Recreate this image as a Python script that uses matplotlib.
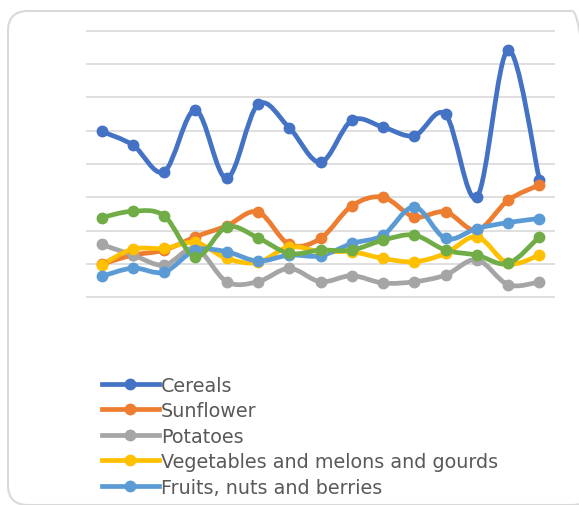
import numpy as np
import matplotlib
matplotlib.use("Agg")
import matplotlib.pyplot as plt
from matplotlib.path import Path
from matplotlib.patches import PathPatch, FancyBboxPatch
from matplotlib.lines import Line2D

# yearly values per crop group (15 periods)
periods = np.arange(15)
cereals = [49.8, 45.7, 37.7, 56.2, 35.7, 57.9, 50.9, 40.5, 53.1, 51.1, 48.5, 54.9, 30.0, 74.3, 35.3]
sunflower = [9.9, 12.6, 14.1, 18.1, 21.4, 25.6, 15.8, 17.6, 27.4, 30.0, 24.1, 25.6, 20.1, 29.1, 33.7]
potatoes = [15.8, 12.6, 9.6, 14.6, 4.6, 4.6, 8.6, 4.6, 6.4, 4.2, 4.6, 6.6, 11.2, 3.7, 4.5]
vegetables = [9.7, 14.4, 14.6, 16.4, 11.6, 10.4, 15.1, 13.6, 13.6, 11.6, 10.6, 13.1, 18.1, 10.1, 12.6]
fruits = [6.2, 8.7, 7.5, 14.1, 13.6, 10.8, 12.6, 12.4, 16.1, 18.6, 27.1, 17.6, 20.6, 22.4, 23.6]
other_crops = [23.9, 25.8, 24.4, 12.1, 21.1, 17.8, 13.1, 14.1, 14.1, 17.1, 18.6, 14.1, 12.6, 10.1, 18.1]

series = [
    ("Cereals", cereals, "#4472C4"),
    ("Sunflower", sunflower, "#ED7D31"),
    ("Potatoes", potatoes, "#A5A5A5"),
    ("Vegetables and melons and gourds", vegetables, "#FFC000"),
    ("Fruits, nuts and berries", fruits, "#5B9BD5"),
    (None, other_crops, "#70AD47"),
]


def smooth_path(x, y, tension=1 / 6):
    # cubic bezier through every point, Catmull-Rom style tangents
    pts = np.column_stack([x, y]).astype(float)
    ext = np.vstack([pts[0], pts, pts[-1]])
    verts = [pts[0]]
    codes = [Path.MOVETO]
    for i in range(len(pts) - 1):
        p0, p1, p2, p3 = ext[i], ext[i + 1], ext[i + 2], ext[i + 3]
        c1 = p1 + (p2 - p0) * tension
        c2 = p2 - (p3 - p1) * tension
        verts += [c1, c2, p2]
        codes += [Path.CURVE4] * 3
    return Path(verts, codes)


fig = plt.figure(figsize=(5.79, 5.06), dpi=100)
ax = fig.add_axes([86 / 579, 207 / 506, 469 / 579, 268 / 506])

for label, vals, color in series:
    ax.add_patch(PathPatch(smooth_path(periods, vals), facecolor="none",
                           edgecolor=color, lw=3.4, capstyle="round",
                           joinstyle="round", zorder=3))
    ax.plot(periods, vals, ls="none", marker="o", ms=7.5, color=color, zorder=4)

ax.set_xlim(-0.5, 14.5)
ax.set_ylim(-0.3, 80.3)
ax.set_yticks(np.arange(0, 81, 10))
ax.set_xticks([])
ax.tick_params(left=False, labelleft=False)
ax.grid(axis="y", color="#D9D9D9", lw=1.2)
ax.set_axisbelow(True)
for s in ax.spines.values():
    s.set_visible(False)

handles = [Line2D([], [], color=c, lw=3.4, marker="o", ms=7.5)
           for lbl, v, c in series if lbl]
labels = [lbl for lbl, v, c in series if lbl]
fig.legend(handles, labels, loc="upper left", bbox_to_anchor=(92 / 579, 1 - 367 / 506),
           frameon=False, fontsize=13.8, handlelength=3.0, handletextpad=0.1,
           labelspacing=0.34, borderpad=0, labelcolor="#595959")

# rounded chart-area border
fig.patches.append(FancyBboxPatch((8, 0), 584, 494, boxstyle="round,pad=0,rounding_size=20",
                                  transform=None, facecolor="none",
                                  edgecolor="#D9D9D9", lw=1.5))

fig.savefig("out.png", dpi=100)
